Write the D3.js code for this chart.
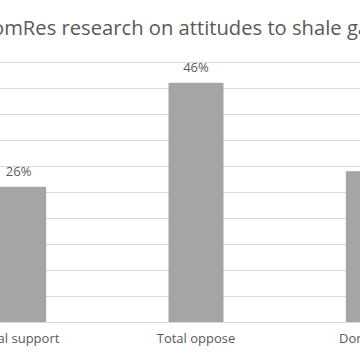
<!DOCTYPE html>
<html lang="en">
<head>
<meta charset="UTF-8">
<script src="https://d3js.org/d3.v7.min.js"></script>
<style>
  body { margin: 0; background: #fff; }
  #plot { position: absolute; width: 360px; height: 360px; overflow: hidden; }
</style>
</head>
<body>
<div id="plot"></div>
<script>
// chart data
const categories = ["Total support", "Total oppose", "Don't know"];
const shares = [0.26, 0.46, 0.29];
const gridTicks = [0.05, 0.10, 0.15, 0.20, 0.25, 0.30, 0.35, 0.40, 0.45, 0.50];
const title = "ComRes research on attitudes to shale gas";

function draw() {
  const width = 360, height = 360;
  const svg = d3.select("#plot").append("svg")
      .attr("width", width)
      .attr("height", height);

  // the picture is a crop, so the plot runs past both edges
  const x = d3.scaleBand()
      .domain(categories)
      .range([-70, 462])
      .paddingInner(0.69)
      .paddingOuter(0.345);

  const y = d3.scaleLinear()
      .domain([0, 0.5])
      .range([322, 62]);

  // gridlines
  svg.append("g")
    .selectAll("line")
    .data(gridTicks)
    .join("line")
      .attr("x1", -70)
      .attr("x2", 462)
      .attr("y1", d => Math.round(y(d)) + 0.5)
      .attr("y2", d => Math.round(y(d)) + 0.5)
      .attr("stroke", "#d9d9d9")
      .attr("stroke-width", 1);

  // bars
  svg.append("g")
    .selectAll("rect")
    .data(categories)
    .join("rect")
      .attr("x", d => x(d))
      .attr("width", x.bandwidth())
      .attr("y", (d, i) => y(shares[i]))
      .attr("height", (d, i) => y(0) - y(shares[i]))
      .attr("fill", "#a5a5a5");

  // baseline
  svg.append("line")
      .attr("x1", -70).attr("x2", 462)
      .attr("y1", y(0) + 0.5).attr("y2", y(0) + 0.5)
      .attr("stroke", "#d9d9d9");

  // value labels
  svg.append("g")
      .attr("font-family", "'Open Sans', sans-serif")
      .attr("font-size", 13)
      .attr("fill", "#595959")
      .attr("text-anchor", "middle")
    .selectAll("text")
    .data(categories)
    .join("text")
      .attr("x", d => x(d) + x.bandwidth() / 2)
      .attr("y", (d, i) => y(shares[i]) - 11)
      .text((d, i) => d3.format(".0%")(shares[i]));

  // category labels
  const xAxis = d3.axisBottom(x).tickSize(0).tickPadding(12);
  const ax = svg.append("g")
      .attr("transform", `translate(0,${y(0)})`)
      .call(xAxis);
  ax.select(".domain").remove();
  ax.selectAll("text")
      .attr("font-family", "'Open Sans', sans-serif")
      .attr("font-size", 13)
      .attr("fill", "#595959");

  // title
  svg.append("text")
      .attr("x", 179)
      .attr("y", 35)
      .attr("text-anchor", "middle")
      .attr("font-family", "'Open Sans', sans-serif")
      .attr("font-size", 20.2)
      .attr("fill", "#595959")
      .text(title);
}

window.onload = draw;
</script>
</body>
</html>
